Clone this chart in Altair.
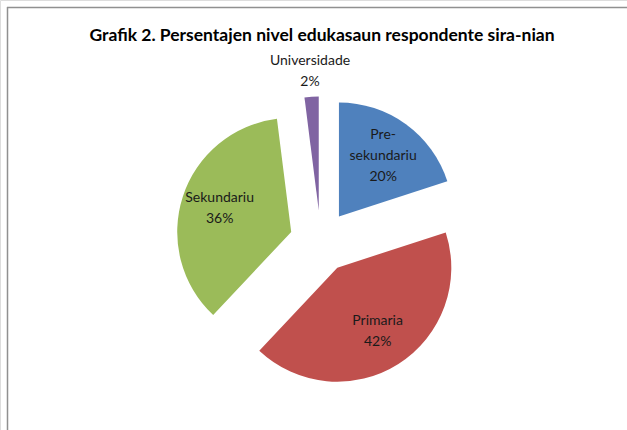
import altair as alt
import pandas as pd

categories = ["Pre-sekundariu", "Primaria", "Sekundariu", "Universidade"]
values = [20, 42, 36, 2]
label_text = ["Pre-\nsekundariu", "Primaria", "Sekundariu", "Universidade"]
colors = ["#4F81BD", "#C0504D", "#9BBB59", "#8064A2"]
title_text = "Grafik 2. Persentajen nivel edukasaun respondente sira-nian"

df = pd.DataFrame({"cat": categories, "value": values, "lab": label_text,
                   "order": list(range(len(categories)))})

W, H = 627, 430
CX, CY = 320.7, 241.5   # pie centre
R = 114                 # pie radius
D = 31                  # explode distance
LH = 21                 # label line height
FONT = "Lato"

base = alt.Chart(df).transform_window(
    cum="sum(value)", sort=[alt.SortField("order")]
).transform_calculate(
    start="datum.cum - datum.value",
    end="datum.cum",
    mid="(datum.cum - datum.value / 2) / 100 * 2 * PI",
).transform_calculate(
    cx=f"{CX} + {D} * sin(datum.mid)",
    cy=f"{CY} - {D} * cos(datum.mid)",
).transform_calculate(
    lr=f"datum.value < 5 ? {R * 1.22} : {R * 0.66}",
    txt="datum.lab + '\\n' + datum.value + '%'",
).transform_calculate(
    nlines="length(split(datum.txt, '\\n'))",
).transform_calculate(
    lx="datum.cx + datum.lr * sin(datum.mid)",
    ly=f"datum.cy - datum.lr * cos(datum.mid) - (datum.nlines - 1) * {LH} / 2",
)

arcs = base.mark_arc(radius=R, stroke=None).encode(
    x=alt.X("cx:Q", scale=None),
    y=alt.Y("cy:Q", scale=None),
    theta=alt.Theta("start:Q", scale=alt.Scale(domain=[0, 100], range=[0, 6.283185307179586])),
    theta2="end:Q",
    color=alt.Color("cat:N", scale=alt.Scale(domain=categories, range=colors), legend=None),
)

labels = base.mark_text(
    font=FONT, fontSize=14, lineHeight=LH, lineBreak="\n",
    align="center", baseline="middle", color="#1a1a1a",
).encode(
    x=alt.X("lx:Q", scale=None),
    y=alt.Y("ly:Q", scale=None),
    text="txt:N",
)

title = alt.Chart(pd.DataFrame({"t": [title_text]})).mark_text(
    font=FONT, fontSize=17.5, fontWeight="bold", align="center", baseline="alphabetic", color="#000000",
).encode(x=alt.value(322), y=alt.value(40.5), text="t:N")

frame_top = alt.Chart(pd.DataFrame({"a": [0]})).mark_rule(color="#909090", strokeWidth=1.5).encode(
    x=alt.value(7), x2=alt.value(W), y=alt.value(7.5))
frame_left = alt.Chart(pd.DataFrame({"a": [0]})).mark_rule(color="#909090", strokeWidth=1.5).encode(
    x=alt.value(7.5), y=alt.value(7), y2=alt.value(H))

chart = alt.layer(frame_top, frame_left, arcs, labels, title).properties(
    width=W, height=H, autosize="none", padding=0,
).configure_view(stroke=None).configure(background="white")

chart.save("out.html", embed_options={"renderer": "svg", "actions": False})
